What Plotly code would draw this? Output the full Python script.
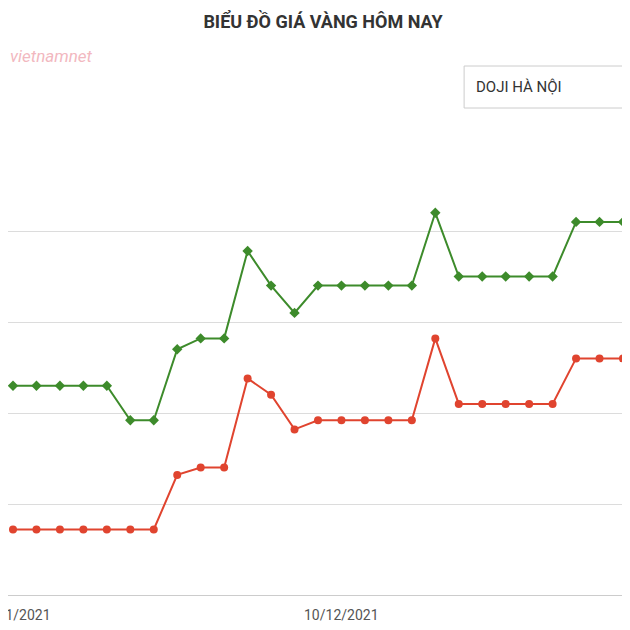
import plotly.graph_objects as go

idx = list(range(27))
tick_idx = [0, 14, 28]
tick_text = ["26/11/2021", "10/12/2021", "25/12/2021"]
sell = [61.15,61.15,61.15,61.15,61.15,60.96,60.96,61.35,61.41,61.41,61.89,61.70,61.55,
        61.70,61.70,61.70,61.70,61.70,62.10,61.75,61.75,61.75,61.75,61.75,62.05,62.05,62.05]
buy = [60.36,60.36,60.36,60.36,60.36,60.36,60.36,60.66,60.70,60.70,61.19,61.10,60.91,
       60.96,60.96,60.96,60.96,60.96,61.41,61.05,61.05,61.05,61.05,61.05,61.30,61.30,61.30]

fig = go.Figure()
fig.add_trace(go.Scatter(x=idx, y=sell, mode="lines+markers", name="Bán",
    line=dict(color="#3d8b2b", width=2), marker=dict(symbol="diamond", size=8, color="#3d8b2b")))
fig.add_trace(go.Scatter(x=idx, y=buy, mode="lines+markers", name="Mua",
    line=dict(color="#e0442f", width=2), marker=dict(symbol="circle", size=8, color="#e0442f")))

H = 455.0
def py(y):
    return (587 - y) / H

ann = [dict(text=t, x=i, xref="x", yref="paper", y=py(607), xanchor="center", yanchor="middle",
            showarrow=False, font=dict(size=14, color="#555")) for i, t in zip(tick_idx, tick_text)]
ann += [
    dict(text="DOJI HÀ NỘI", xref="paper", yref="paper", x=0.74, y=py(79), xanchor="left",
         yanchor="middle", showarrow=False, font=dict(size=15, color="#333")),
    dict(text="<i>vietnamnet</i>", xref="paper", yref="paper", x=0.0, y=py(48),
         xanchor="left", yanchor="middle", showarrow=False, font=dict(size=17, color="#f2b8c0")),
]

fig.update_layout(
    width=630, height=630, showlegend=False,
    margin=dict(l=0, r=0, t=132, b=43),
    plot_bgcolor="white", paper_bgcolor="white",
    font=dict(family="Roboto, Arial", color="#333"),
    xaxis=dict(range=[-0.213, 26.64], showticklabels=False,
               showgrid=False, showline=True, linecolor="#ccc", ticks="", zeroline=False),
    yaxis=dict(range=[60, 62.5], dtick=0.5, showgrid=True, gridcolor="#dcdcdc",
               showticklabels=False, zeroline=False),
    title=dict(text="<b>BIỂU ĐỒ GIÁ VÀNG HÔM NAY</b>", x=0.5, y=0.978, xanchor="center",
               yanchor="middle", font=dict(size=18, color="#333")),
    shapes=[dict(type="rect", xref="paper", yref="paper", x0=0.724, x1=1.01,
                 y0=py(100), y1=py(58), line=dict(color="#ccc", width=1), fillcolor="white")],
    annotations=ann,
)
fig.write_html("out.html")
